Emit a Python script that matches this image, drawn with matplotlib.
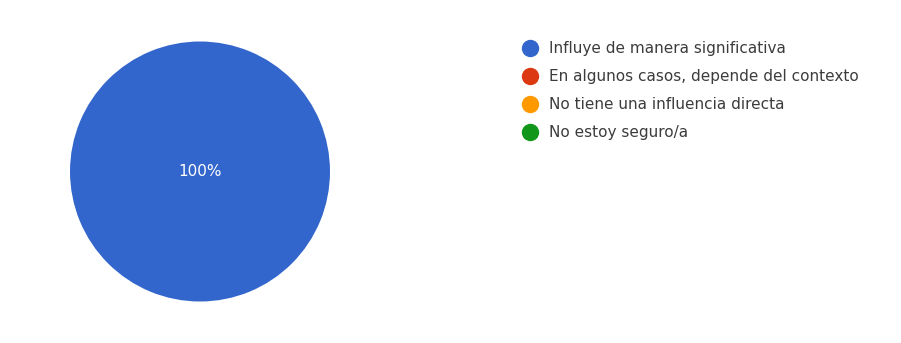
import matplotlib.pyplot as plt
from matplotlib.lines import Line2D

labels = ["Influye de manera significativa",
          "En algunos casos, depende del contexto",
          "No tiene una influencia directa",
          "No estoy seguro/a"]
values = [100, 0, 0, 0]
colors = ["#3366CC", "#DC3912", "#FF9900", "#109618"]

plt.rcParams['font.family'] = ['DejaVu Sans']

W, H = 901, 343
fig = plt.figure(figsize=(W / 100, H / 100), dpi=100)
ax = fig.add_axes([70 / W, (H - 302) / H, 260 / W, 261 / H])

wedges, texts, autotexts = ax.pie(
    values, colors=colors, startangle=90, counterclock=False, radius=1,
    autopct=lambda p: f"{p:.0f}%" if p > 0 else "",
    pctdistance=0.0, textprops=dict(color="white", fontsize=11))
ax.set_xlim(-1, 1)
ax.set_ylim(-1, 1)
ax.set_aspect('equal')

# circle markers for the legend, like the original
handles = [Line2D([], [], marker='o', linestyle='', markersize=11.5,
                  markerfacecolor=c, markeredgecolor=c) for c in colors]
fig.legend(handles, labels, loc='upper left',
           bbox_to_anchor=(522 / W, (H - 41) / H),
           frameon=False, fontsize=11, handlelength=1.0,
           handletextpad=0.75, labelspacing=0.85, labelcolor="#3c3c3c",
           borderpad=0, borderaxespad=0)

fig.savefig("out.png", dpi=100)
